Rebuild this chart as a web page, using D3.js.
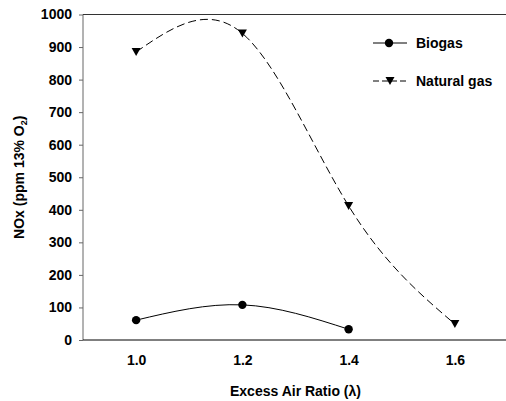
<!DOCTYPE html>
<html>
<head>
<meta charset="utf-8">
<script src="https://cdn.jsdelivr.net/npm/d3@7"></script>
<style>
  body { margin: 0; background: #fff; }
  text { font-family: "Liberation Sans", Arial, sans-serif; font-weight: bold; font-size: 14px; fill: #000; }
</style>
</head>
<body>
<div id="chart"></div>
<script>
// data
const airRatios = [1.0, 1.2, 1.4, 1.6]
const biogasRatios = [1.0, 1.2, 1.4]
const biogasNox = [61, 108, 33]
const naturalGasNox = [885, 942, 412, 49]
const yTicks = [0, 100, 200, 300, 400, 500, 600, 700, 800, 900, 1000]
const xTicks = [1.0, 1.2, 1.4, 1.6]

function drawChart() {

// 1. data
  const biogas = biogasRatios.map((x, i) => ({ x: x, y: biogasNox[i] }))
  const natural = airRatios.map((x, i) => ({ x: x, y: naturalGasNox[i] }))

// 2. dimensions
  let dimensions = {
    width: 506,
    height: 401,
    margin: { top: 14.5, right: -2, bottom: 61, left: 83 },
  }
  dimensions.boundedWidth = dimensions.width - dimensions.margin.left - dimensions.margin.right
  dimensions.boundedHeight = dimensions.height - dimensions.margin.top - dimensions.margin.bottom

// 3. canvas
  const wrapper = d3.select("#chart")
    .append("svg")
      .attr("width", dimensions.width)
      .attr("height", dimensions.height)

  const bounds = wrapper.append("g")
    .attr("transform", `translate(${dimensions.margin.left},${dimensions.margin.top})`)

// 4. scales
  const xScale = d3.scaleLinear()
    .domain([0.9, 1.7])
    .range([0, dimensions.boundedWidth])

  const yScale = d3.scaleLinear()
    .domain([0, 1000])
    .range([dimensions.boundedHeight, 0])

// 5. peripherals
  const yAxisGenerator = d3.axisLeft(yScale)
    .tickValues(yTicks)
    .tickSize(4)
    .tickPadding(7)
    .tickFormat(d3.format("d"))
  const yAxis = bounds.append("g").call(yAxisGenerator)
  yAxis.select(".domain").remove()
  yAxis.selectAll(".tick line").attr("stroke", "#666")
  yAxis.selectAll("text").attr("font-size", 14).attr("font-family", null)

  bounds.append("line")
    .attr("x1", 0).attr("x2", 0)
    .attr("y1", 0).attr("y2", dimensions.boundedHeight)
    .attr("stroke", "#666")

  const xAxisGenerator = d3.axisBottom(xScale)
    .tickValues(xTicks)
    .tickSize(0)
    .tickPadding(15)
    .tickFormat(d3.format(".1f"))
  const xAxis = bounds.append("g")
    .attr("transform", `translate(0,${dimensions.boundedHeight})`)
    .call(xAxisGenerator)
  xAxis.select(".domain").remove()
  xAxis.selectAll("text").attr("font-size", 14).attr("font-family", null)

  bounds.append("line")
    .attr("x1", 0).attr("x2", dimensions.boundedWidth)
    .attr("y1", dimensions.boundedHeight).attr("y2", dimensions.boundedHeight)
    .attr("stroke", "#000")
  bounds.append("line")
    .attr("x1", 0).attr("x2", dimensions.boundedWidth)
    .attr("y1", 0).attr("y2", 0)
    .attr("stroke", "#333")

  wrapper.append("text")
    .attr("x", dimensions.margin.left + (xScale(1.7) - xScale(0.9)) / 2)
    .attr("y", 396)
    .attr("text-anchor", "middle")
    .text("Excess Air Ratio (λ)")

  const yLabel = wrapper.append("text")
    .attr("transform", `translate(24,${dimensions.margin.top + dimensions.boundedHeight / 2}) rotate(-90)`)
    .attr("text-anchor", "middle")
  yLabel.append("tspan").text("NOx (ppm 13% O")
  yLabel.append("tspan").attr("font-size", 9).attr("dy", 3).text("2")
  yLabel.append("tspan").attr("dy", -3).text(")")

// 6. data
  const lineGenerator = d3.line()
    .x(d => xScale(d.x))
    .y(d => yScale(d.y))
    .curve(d3.curveNatural)

  bounds.append("path")
    .attr("d", lineGenerator(natural))
    .attr("fill", "none")
    .attr("stroke", "#000")
    .attr("stroke-width", 1)
    .attr("stroke-dasharray", "8 4")

  bounds.append("path")
    .attr("d", lineGenerator(biogas))
    .attr("fill", "none")
    .attr("stroke", "#000")
    .attr("stroke-width", 1)

  const triangle = "M-4.5,-4L4.5,-4L0,4Z"

  bounds.selectAll(".bio-dot")
    .data(biogas)
    .join("circle")
      .attr("cx", d => xScale(d.x))
      .attr("cy", d => yScale(d.y))
      .attr("r", 4.2)
      .attr("fill", "#000")

  bounds.selectAll(".ng-dot")
    .data(natural)
    .join("path")
      .attr("d", triangle)
      .attr("transform", d => `translate(${xScale(d.x)},${yScale(d.y)})`)
      .attr("fill", "#000")

// 7. legend
  const legend = wrapper.append("g")
  legend.append("line")
    .attr("x1", 373).attr("x2", 407).attr("y1", 43).attr("y2", 43)
    .attr("stroke", "#000")
  legend.append("circle")
    .attr("cx", 389).attr("cy", 43).attr("r", 4.2).attr("fill", "#000")
  legend.append("text").attr("x", 416).attr("y", 48).text("Biogas")

  legend.append("line")
    .attr("x1", 373).attr("x2", 407).attr("y1", 81).attr("y2", 81)
    .attr("stroke", "#000")
    .attr("stroke-dasharray", "6 3")
  legend.append("path")
    .attr("d", triangle)
    .attr("transform", "translate(390,81)")
    .attr("fill", "#000")
  legend.append("text").attr("x", 416).attr("y", 86).text("Natural gas")
}

drawChart()
</script>
</body>
</html>
